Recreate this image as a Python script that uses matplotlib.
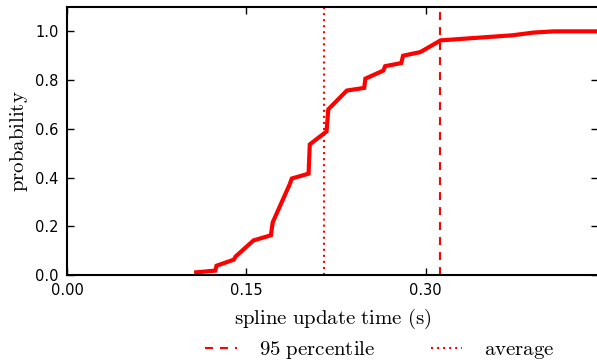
import matplotlib
matplotlib.use('Agg')
import matplotlib.pyplot as plt

# CDF of spline update time
update_time = [0.108, 0.124, 0.125, 0.1395, 0.141, 0.156, 0.1705, 0.172, 0.186, 0.188,
               0.202, 0.203, 0.217, 0.2185, 0.234, 0.2485, 0.2495, 0.2645, 0.266,
               0.2795, 0.281, 0.2955, 0.3124, 0.3727, 0.390, 0.407, 0.444]
probability = [0.011, 0.018, 0.038, 0.063, 0.076, 0.142, 0.163, 0.216, 0.37, 0.396,
               0.416, 0.536, 0.589, 0.680, 0.757, 0.768, 0.806, 0.839, 0.857,
               0.870, 0.900, 0.915, 0.963, 0.984, 0.995, 1.0, 1.0]
average_time = 0.215
percentile_95 = 0.312

x_ticks = [0.00, 0.15, 0.30]
y_ticks = [0.0, 0.2, 0.4, 0.6, 0.8, 1.0]

plt.rcParams['mathtext.fontset'] = 'cm'

fig = plt.figure(figsize=(5.97, 3.64), dpi=100)
ax = fig.add_axes([0.1122, 0.2445, 0.8895, 0.7363])

ax.plot(update_time, probability, color='red', lw=3, solid_joinstyle='miter')
l95 = ax.axvline(percentile_95, color='red', ls=(0, (3.8, 3.4)), lw=1.5)
lavg = ax.axvline(average_time, color='red', ls=(0, (1, 1.9)), lw=1.5)

ax.set_xlim(0, 0.444)
ax.set_ylim(0, 1.1)
ax.set_xticks(x_ticks)
ax.set_xticklabels(['%.2f' % t for t in x_ticks])
ax.set_yticks(y_ticks)
ax.set_yticklabels(['%.1f' % t for t in y_ticks])
ax.tick_params(direction='in', length=5, width=1, top=True, right=True,
               labelsize=10.5, pad=6)
for s in ax.spines.values():
    s.set_linewidth(1.5)

ax.set_xlabel(r'$\mathrm{spline\ update\ time\ (s)}$', fontsize=15, labelpad=6)
ax.set_ylabel(r'$\mathrm{probability}$', fontsize=15, labelpad=4)

fig.legend([l95, lavg], [r'$\mathrm{95\ percentile}$', r'$\mathrm{average}$'],
           loc='center', bbox_to_anchor=(380 / 597, 1 - 350 / 364), ncol=2,
           frameon=False, fontsize=15, handlelength=1.5, handletextpad=1.05,
           columnspacing=2.7)

fig.savefig('out.png', dpi=100)
